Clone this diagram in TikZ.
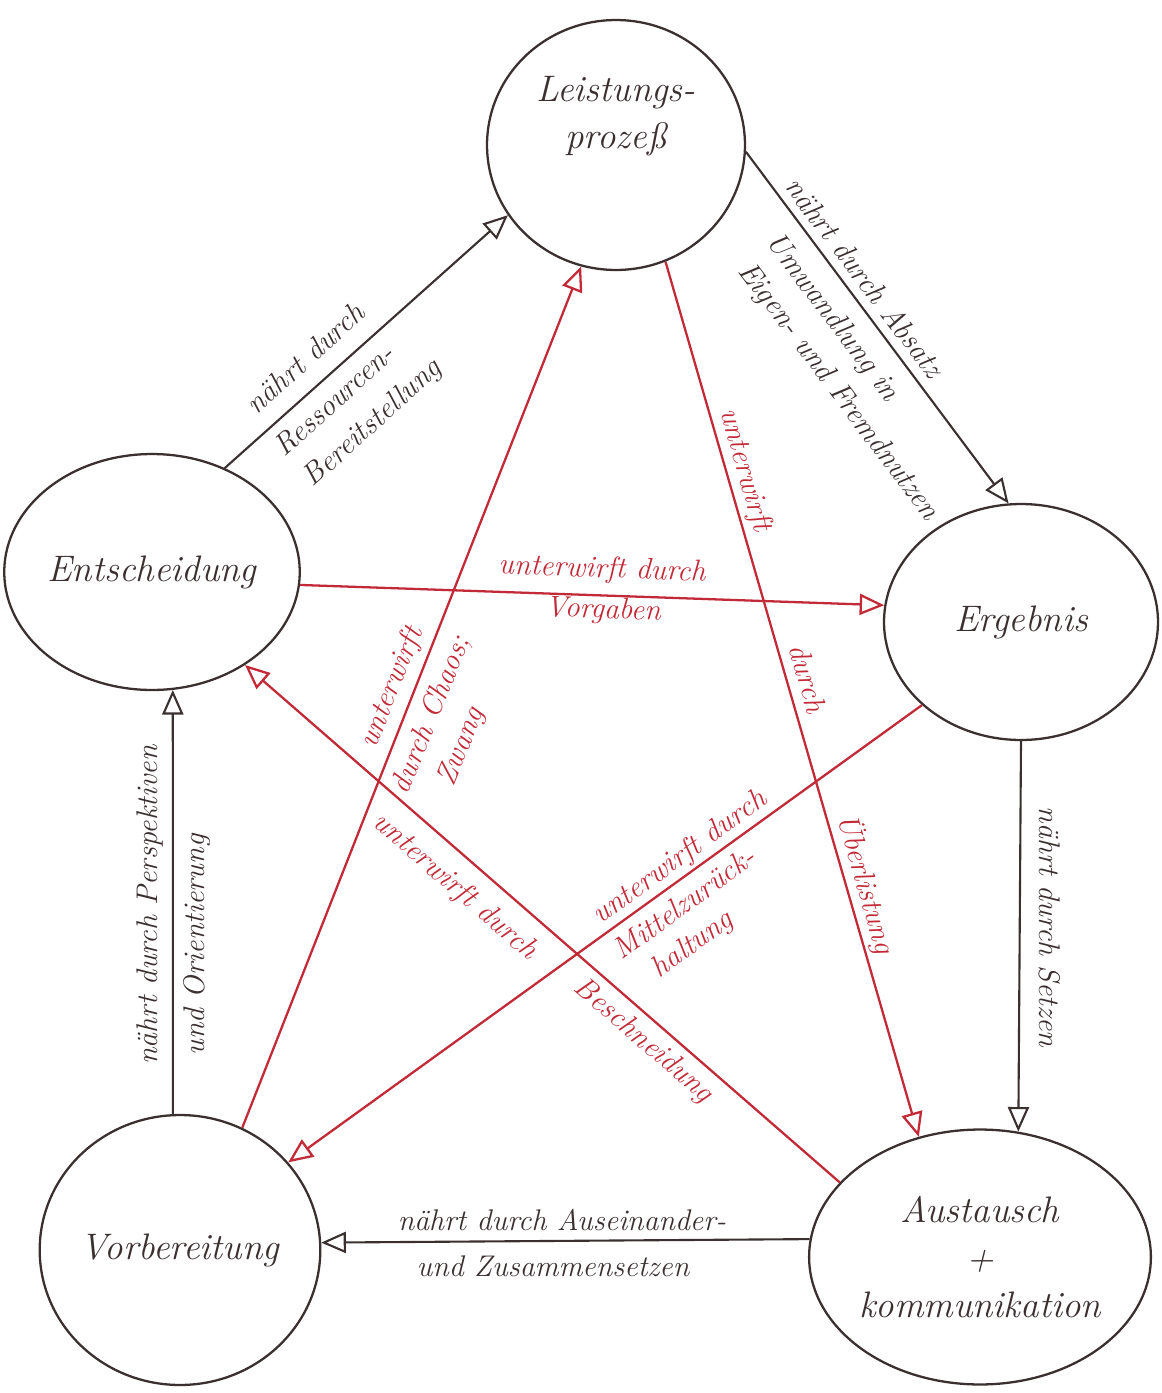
\documentclass[tikz,border=0pt]{standalone}
\usepackage{fontspec}
\usetikzlibrary{arrows.meta,shapes.geometric}
\definecolor{ink}{HTML}{3B3030}
\definecolor{redink}{HTML}{C22A38}
\begin{document}
\begin{tikzpicture}[x=0.02cm,y=-0.02cm,
  state/.style={draw=ink, ellipse, line width=1.3pt, inner sep=0pt, align=center,
    font=\fontsize{21}{27}\selectfont\itshape, text=ink},
  nourish/.style={draw=ink, line width=1.2pt, -{Triangle[open,length=14pt,width=12pt]}},
  subdue/.style={draw=redink, line width=1.3pt, -{Triangle[open,length=14pt,width=12pt]}},
  blab/.style={text=ink, font=\fontsize{17}{20}\selectfont\itshape, inner sep=0pt},
  rlab/.style={text=redink, font=\fontsize{17}{20}\selectfont\itshape, inner sep=0pt}]
\useasboundingbox (0,0) rectangle (1161,1393);

% states
\node[state, minimum width=5.16cm, minimum height=5.0cm] (L) at (616,145) {Leistungs-\\prozeß\\[0.35cm]};
\node[state, minimum width=5.68cm, minimum height=4.72cm] (E) at (152,572) {Entscheidung};
\node[state, minimum width=5.48cm, minimum height=4.72cm] (R) at (1021,622) {Ergebnis};
\node[state, minimum width=5.6cm, minimum height=5.4cm] (V) at (180,1250) {Vorbereitung};
\node[state, minimum width=6.4cm, minimum height=5.1cm] (A) at (980,1257) {Austausch\\+\\kommunikation};

% black "naehrt" arrows
\draw[nourish] (E.55) -- (L.213);
\draw[nourish] (L.-3) -- (R.96);
\draw[nourish] (R.-90) -- (A.73);
\draw[nourish] (A.174) -- (V.3);
\draw[nourish] (V.93) -- (E.-80);

% red "unterwirft" arrows
\draw[subdue] (E.-5) -- (R.173);
\draw[subdue] (L.-67) -- (A.117);
\draw[subdue] (R.220) -- (V.39);
\draw[subdue] (A.152) -- (E.-45);
\draw[subdue] (V.63) -- (L.254);

% black labels
\node[blab, rotate=42] (la1) at (305,358) {nährt durch};
\node[blab, rotate=42] (la2) at (334,400) {Ressourcen-};
\node[blab, rotate=42] (la3) at (373,424) {Bereitstellung};

\node[blab, rotate=-53] (lb1) at (865,277) {nährt durch Absatz};
\node[blab, rotate=-53] (lb2) at (832,318) {Umwandlung in};
\node[blab, rotate=-53] (lb3) at (838,392) {Eigen- und Fremdnutzen};

\node[blab, rotate=-90] (lc1) at (1050,927) {nährt durch Setzen};

\node[blab] (ld1) at (562,1220) {nährt durch Auseinander-};
\node[blab] (ld2) at (553,1266) {und Zusammensetzen};

\node[blab, rotate=90] (le1) at (150,905) {nährt durch Perspektiven};
\node[blab, rotate=90] (le2) at (197,945) {und Orientierung};

% red labels
\node[rlab, rotate=-2] (lf1) at (602,570) {unterwirft durch};
\node[rlab, rotate=-2] (lf2) at (603,611) {Vorgaben};

\node[rlab, rotate=-74] (lg1) at (745,470) {unterwirft};
\node[rlab, rotate=-74] (lg2) at (808,678) {durch};
\node[rlab, rotate=-74] (lg3) at (866,884) {Überlistung};

\node[rlab, rotate=36] (lh1) at (680,858) {unterwirft durch};
\node[rlab, rotate=36] (lh2) at (684,903) {Mittelzurück-};
\node[rlab, rotate=36] (lh3) at (693,945) {haltung};

\node[rlab, rotate=-41] (li1) at (455,887) {unterwirft durch};
\node[rlab, rotate=-41] (li2) at (643,1041) {Beschneidung};

\node[rlab, rotate=68] (lj1) at (392,688) {unterwirft};
\node[rlab, rotate=68] (lj2) at (432,715) {durch Chaos;};
\node[rlab, rotate=68] (lj3) at (462,747) {Zwang};
\end{tikzpicture}
\end{document}
